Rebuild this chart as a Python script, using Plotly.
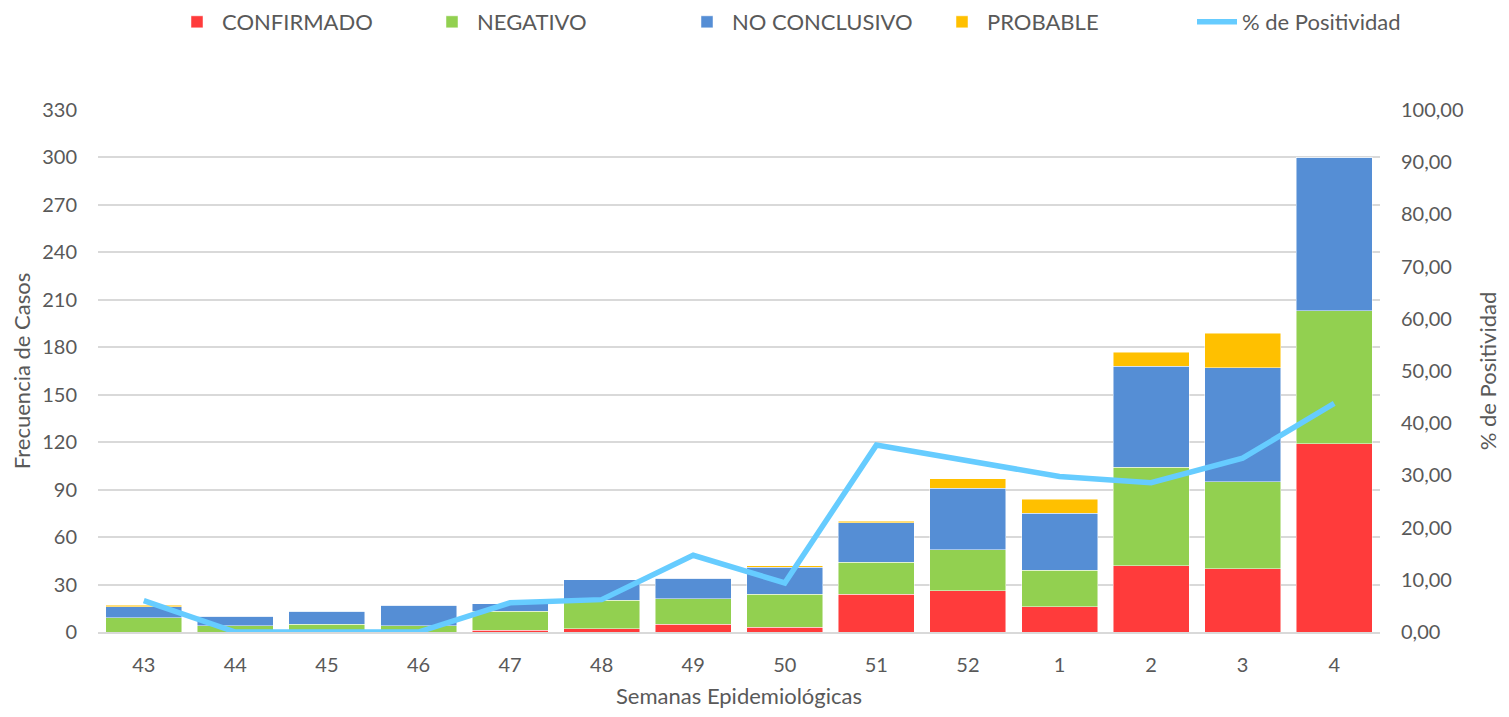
import plotly.graph_objects as go

semanas = ["43", "44", "45", "46", "47", "48", "49", "50", "51", "52", "1", "2", "3", "4"]
confirmado = [0, 0, 0, 0, 1, 2, 5, 3, 24, 26, 16, 42, 40, 119]
negativo = [9, 4, 5, 4, 12, 18, 16, 21, 20, 26, 23, 62, 55, 84]
no_conclusivo = [7, 6, 8, 13, 5, 13, 13, 17, 25, 39, 36, 64, 72, 97]
probable = [1, 0, 0, 0, 0, 0, 0, 1, 1, 6, 9, 9, 22, 0]
positividad = [6.0, 0.0, 0.0, 0.0, 5.6, 6.2, 14.7, 9.4, 35.8, 32.9, 29.8, 28.6, 33.3, 43.8]

left_ticks = [0, 30, 60, 90, 120, 150, 180, 210, 240, 270, 300, 330]
right_ticks = [0, 10, 20, 30, 40, 50, 60, 70, 80, 90, 100]

FONT = "Lato"
GRAY = "#595959"

fig = go.Figure()
series = [
    ("CONFIRMADO", confirmado, "#FF3B3B"),
    ("NEGATIVO", negativo, "#92D050"),
    ("NO CONCLUSIVO", no_conclusivo, "#558ED5"),
    ("PROBABLE", probable, "#FFC000"),
]
for name, vals, col in series:
    fig.add_trace(go.Bar(
        x=semanas, y=vals, name=name,
        marker=dict(color=col, line=dict(color="rgba(255,255,255,0.6)", width=0.8)),
        yaxis="y",
    ))

fig.add_trace(go.Scatter(
    x=semanas, y=positividad, name="% de Positividad", mode="lines",
    line=dict(color="#66CCFF", width=5.5),
    yaxis="y2",
))

fig.update_layout(
    width=1493, height=701,
    barmode="stack", bargap=0.17,
    separators=",.",
    paper_bgcolor="white", plot_bgcolor="white",
    font=dict(family=FONT, size=20, color=GRAY),
    margin=dict(l=90, r=121, t=102, b=77, autoexpand=False),
    legend=dict(orientation="h", x=0.555, xanchor="center", y=0.98, yref="container",
                yanchor="middle", font=dict(size=22, color=GRAY), traceorder="normal",
                entrywidth=200, itemwidth=40),
    xaxis=dict(type="category", showgrid=False, showline=True, linecolor="#D9D9D9",
               linewidth=1.5, ticks="", tickfont=dict(size=20, color=GRAY),
               ticklabelstandoff=14,
               title=dict(text="Semanas Epidemiológicas", font=dict(size=22, color=GRAY), standoff=20)),
    yaxis=dict(range=[0, 330], tickvals=left_ticks, showgrid=True, gridcolor="#D9D9D9",
               gridwidth=1.5, zeroline=False, tickfont=dict(size=20, color=GRAY),
               ticklabelstandoff=20,
               title=dict(text="Frecuencia de Casos", font=dict(size=22, color=GRAY), standoff=12)),
    yaxis2=dict(range=[0, 100], tickvals=right_ticks, tickformat=".2f", overlaying="y",
                side="right", showgrid=False, zeroline=False,
                tickfont=dict(size=20, color=GRAY), ticklabelstandoff=20,
                title=dict(text="% de Positividad", font=dict(size=22, color=GRAY), standoff=26)),
)

fig.write_html("out.html")
